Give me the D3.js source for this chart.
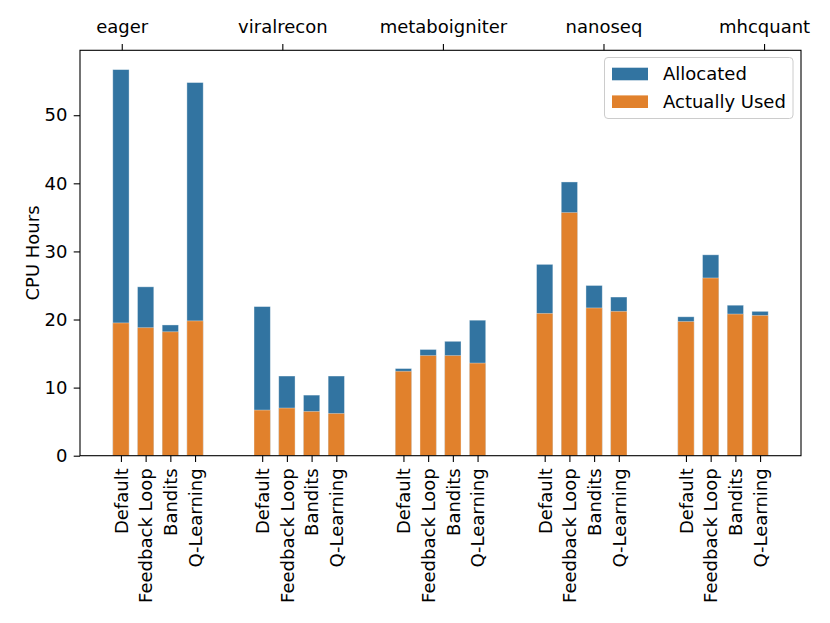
<!DOCTYPE html>
<html>
<head>
<meta charset="utf-8">
<script src="https://cdn.jsdelivr.net/npm/d3@7"></script>
<style>
  html, body { margin: 0; padding: 0; background: #fff; }
  text { font-family: "DejaVu Sans", sans-serif; }
</style>
</head>
<body>
<svg id="chart" width="830" height="623"></svg>
<script>
const pipelines = ["eager", "viralrecon", "metaboigniter", "nanoseq", "mhcquant"];
const methods = ["Default", "Feedback Loop", "Bandits", "Q-Learning"];
const allocated = [
  [56.7, 24.8, 19.2, 54.8],
  [21.9, 11.7, 8.9, 11.7],
  [12.8, 15.6, 16.8, 19.9],
  [28.1, 40.2, 25.0, 23.3],
  [20.4, 29.5, 22.1, 21.2]
];
const used = [
  [19.5, 18.8, 18.2, 19.8],
  [6.7, 7.0, 6.5, 6.2],
  [12.4, 14.7, 14.7, 13.6],
  [20.9, 35.7, 21.7, 21.2],
  [19.7, 26.1, 20.8, 20.6]
];
const yTicks = [0, 10, 20, 30, 40, 50];
const seriesNames = ["Allocated", "Actually Used"];
const colors = ["#3274a1", "#e1812c"];

const svg = d3.select("#chart");
const L = 80, R = 801, T = 50.3, B = 455.7;
const groupStep = 5.717, barW = 0.66;
const fontSize = 18;

const bars = [];
pipelines.forEach((p, g) => methods.forEach((m, j) => {
  bars.push({ g, j, pos: g * groupStep + j, alloc: allocated[g][j], used: used[g][j], label: m });
}));
const xMin = -barW / 2, xMax = d3.max(bars, d => d.pos) + barW / 2;
const pad = (xMax - xMin) * 0.05;
const x = d3.scaleLinear().domain([xMin - pad, xMax + pad]).range([L, R]);
const yMax = d3.max(bars, d => d.alloc) * 1.05;
const y = d3.scaleLinear().domain([0, yMax]).range([B, T]);
const xTop = d3.scaleLinear().domain([-0.26, 4.23]).range([L, R]);

svg.append("rect").attr("width", 830).attr("height", 623).attr("fill", "#fff");

// bars
const bw = x(barW) - x(0);
svg.append("g").selectAll("rect").data(bars).join("rect")
  .attr("x", d => x(d.pos) - bw / 2).attr("width", bw)
  .attr("y", d => y(d.alloc)).attr("height", d => y(0) - y(d.alloc))
  .attr("fill", colors[0]).attr("stroke", "#ffffff").attr("stroke-opacity", 0.45).attr("stroke-width", 0.8);
svg.append("g").selectAll("rect").data(bars).join("rect")
  .attr("x", d => x(d.pos) - bw / 2).attr("width", bw)
  .attr("y", d => y(d.used)).attr("height", d => y(0) - y(d.used))
  .attr("fill", colors[1]).attr("stroke", "#ffffff").attr("stroke-opacity", 0.45).attr("stroke-width", 0.8);

// bottom axis
const xAxis = d3.axisBottom(x).tickValues(bars.map(d => d.pos))
  .tickFormat((d, i) => bars[i].label).tickSize(6.3).tickPadding(6.3);
const gx = svg.append("g").attr("transform", `translate(0,${B})`).call(xAxis);
gx.select(".domain").remove();
gx.selectAll(".tick line").attr("stroke", "#000").attr("stroke-width", 1.1);
gx.selectAll(".tick text")
  .attr("transform", "rotate(-90)")
  .attr("x", -12.6).attr("y", 0).attr("dy", "0.35em")
  .attr("text-anchor", "end")
  .attr("font-size", fontSize).attr("fill", "#000");

// top axis
const xAxisTop = d3.axisTop(xTop).tickValues([0, 1, 2, 3, 4])
  .tickFormat((d, i) => pipelines[i]).tickSize(6.3).tickPadding(6.3);
const gt = svg.append("g").attr("transform", `translate(0,${T})`).call(xAxisTop);
gt.select(".domain").remove();
gt.selectAll(".tick line").attr("stroke", "#000").attr("stroke-width", 1.1);
gt.selectAll(".tick text").attr("font-size", fontSize).attr("fill", "#000").attr("dy", "-0.24em");

// left axis
const yAxis = d3.axisLeft(y).tickValues(yTicks).tickFormat(d3.format("d")).tickSize(6.3).tickPadding(6.3);
const gy = svg.append("g").attr("transform", `translate(${L},0)`).call(yAxis);
gy.select(".domain").remove();
gy.selectAll(".tick line").attr("stroke", "#000").attr("stroke-width", 1.1);
gy.selectAll(".tick text").attr("font-size", fontSize).attr("fill", "#000");

svg.append("text").attr("transform", `translate(33,${(T + B) / 2}) rotate(-90)`)
  .attr("text-anchor", "middle").attr("dy", "0.35em")
  .attr("font-size", fontSize).text("CPU Hours");

// frame
svg.append("rect").attr("x", L).attr("y", T).attr("width", R - L).attr("height", B - T)
  .attr("fill", "none").attr("stroke", "#000").attr("stroke-width", 1.1);

// legend
const lg = svg.append("g");
lg.append("rect").attr("x", 604.5).attr("y", 57.5).attr("width", 188.5).attr("height", 61)
  .attr("rx", 3.5).attr("fill", "#fff").attr("fill-opacity", 0.8)
  .attr("stroke", "#cccccc").attr("stroke-width", 1);
seriesNames.forEach((s, i) => {
  const cy = 74 + i * 27.7;
  lg.append("rect").attr("x", 612).attr("y", cy - 6.3).attr("width", 36).attr("height", 12.6)
    .attr("fill", colors[i]);
  lg.append("text").attr("x", 663).attr("y", cy).attr("dy", "0.35em")
    .attr("font-size", fontSize).text(s);
});
</script>
</body>
</html>
